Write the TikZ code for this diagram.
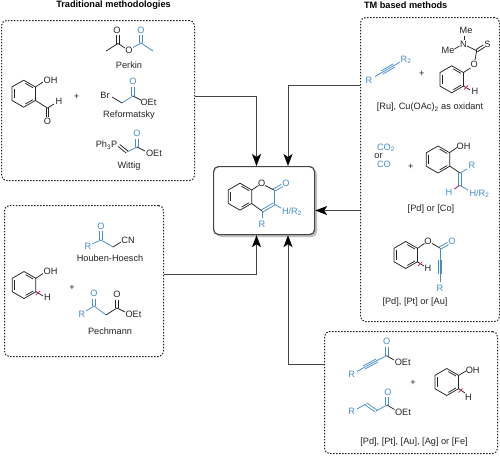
\documentclass[tikz,border=0pt]{standalone}
\usepackage{fontspec}
\setmainfont{Liberation Sans}
\usetikzlibrary{calc,arrows.meta}
\definecolor{bl}{RGB}{70,140,205}
\definecolor{pk}{RGB}{230,40,140}
\definecolor{ink}{RGB}{35,35,35}
\newcounter{lbn}
\tikzset{
  bondline/.style={line width=0.75pt,draw=ink},
  blbond/.style={line width=0.75pt,draw=bl},
  atom/.style={inner sep=0pt,font=\fontsize{9.2}{10}\selectfont,text=ink},
  blatom/.style={atom,text=bl},
  title/.style={inner sep=0pt,font=\fontsize{9.2}{10}\selectfont\bfseries,text=black},
  dbox/.style={draw=ink,line width=1pt,rounded corners=5pt,dash pattern=on 1.5pt off 1.5pt,inner sep=0pt,anchor=north west},
  conn/.style={line width=1pt,draw=ink!85,-{Stealth[length=12pt,width=9pt,inset=3pt,color=black]}},
  squig/.style={line width=0.8pt,draw=pk}
}
\newcommand\lb[3][atom]{\stepcounter{lbn}\node[#1] (t\thelbn) at (#2) {#3};}
\newcommand\ab[2]{\lb[atom]{#1}{#2}}
\newcommand\bb[2]{\lb[blatom]{#1}{#2}}
\newcommand\bn[2]{\draw[bondline] #1 -- #2;}
\newcommand\bu[2]{\draw[blbond] #1 -- #2;}
\newcommand\dbl[3][bondline]{\draw[#1] ($#2!1.3pt!90:#3$) -- ($#3!1.3pt!-90:#2$);\draw[#1] ($#2!1.3pt!-90:#3$) -- ($#3!1.3pt!90:#2$);}
\newcommand\trp[3][blbond]{\draw[#1] #2 -- #3;\draw[#1] ($#2!1.8pt!90:#3$) -- ($#3!1.8pt!-90:#2$);\draw[#1] ($#2!1.8pt!-90:#3$) -- ($#3!1.8pt!90:#2$);}
\newcommand\benz[2]{\begin{scope}[shift={(#1,#2)}]
  \draw[bondline,line join=miter] (0,-13.5)--(11.7,-6.75)--(11.7,6.75)--(0,13.5)--(-11.7,6.75)--(-11.7,-6.75)--cycle;
  \draw[bondline] (-9.2,-4.6)--(-9.2,4.6);
  \draw[bondline] (1.6,-10.4)--(9.2,-6);
  \draw[bondline] (1.6,10.4)--(9.2,6);
\end{scope}}
\newcommand\sq[2]{\draw[squig] (#1-2,#2+2) .. controls (#1-0.5,#2+2) and (#1-1.2,#2-0.4) .. (#1,#2) .. controls (#1+1.2,#2+0.4) and (#1+0.5,#2-2) .. (#1+2,#2-2);}
\begin{document}
\begin{tikzpicture}[x=1pt,y=-1pt]
\useasboundingbox (0,0) rectangle (500,455);
% boxes
\node[dbox,minimum width=193pt,minimum height=160pt] (b1) at (1,20) {};
\node[dbox,minimum width=159pt,minimum height=151pt] (b2) at (4,205) {};
\node[dbox,minimum width=139pt,minimum height=304pt] (b3) at (360,17) {};
\node[dbox,minimum width=173pt,minimum height=122pt] (b4) at (324,331) {};
\fill[black!25,rounded corners=5pt] (216,169) rectangle (317,237);
\node[draw=ink!85,fill=white,line width=1.2pt,rounded corners=5pt,minimum width=101pt,minimum height=68pt,inner sep=0pt,anchor=north west] (c) at (213,166) {};
% titles
\lb[title]{113.5,5}{Traditional methodologies}
\lb[title]{405.7,5}{TM based methods}
% connectors
\coordinate (e1) at (b1.east |- 0,96);
\coordinate (e2) at (b2.east |- 0,274);
\coordinate (e3) at (b3.west |- 0,85);
\coordinate (e4) at (b3.west |- 0,210.5);
\coordinate (e5) at (b4.west |- 0,364);
\coordinate (n1) at (c.north -| 256.5,0);
\coordinate (n2) at (c.north -| 288,0);
\coordinate (s1) at (c.south -| 256.5,0);
\coordinate (s2) at (c.south -| 288,0);
\coordinate (rr) at (c.east |- 0,210.5);
\draw[conn] (e1) -| (n1);
\draw[conn] (e2) -| (s1);
\draw[conn] (e3) -| (n2);
\draw[conn] (e4) -- (rr);
\draw[conn] (e5) -| (s2);
% coumarin
\benz{240}{196.7}
\ab{261.7,183.3}{O}
\bn{(251.7,190)}{(258.5,185.5)}
\bn{(265,185.5)}{(274,190)}
\dbl[blbond]{(274,190)}{(282,185.5)}
\bb{286,183.5}{O}
\bu{(274,190)}{(274,204)}
\dbl[blbond]{(274,204)}{(262,211)}
\bn{(262,211)}{(251.7,203.5)}
\bu{(262,211)}{(262,218)}
\bb{262,224}{R}
\bu{(274,204)}{(281,208)}
\bb{292,211.5}{H/R\textsubscript{2}}
% salicylaldehyde
\benz{23.7}{93.7}
\bn{(35.4,87)}{(43,82)}
\ab{50.5,80.5}{OH}
\bn{(35.4,100.5)}{(47.5,108)}
\bn{(47.5,108)}{(54,104)}
\ab{59,101.5}{H}
\dbl{(47.5,108)}{(47.5,116.5)}
\ab{47.5,121.5}{O}
\ab{76.5,96.5}{+}
% Perkin
\bn{(106,51)}{(118,43.5)}
\dbl{(118,43.5)}{(118,35)}
\ab{117,30}{O}
\bn{(118,43.5)}{(125,48)}
\ab{129,50}{O}
\bu{(133,47.5)}{(141,43)}
\dbl[blbond]{(141,43)}{(141,35)}
\bb{141,30}{O}
\bu{(141,43)}{(153,51)}
\ab{129,65.5}{Perkin}
% Reformatsky
\ab{105,95}{Br}
\bn{(112,97)}{(122,103)}
\bu{(122,103)}{(133,96)}
\dbl[blbond]{(133,96)}{(133,87)}
\bb{133,81.5}{O}
\bn{(133,96)}{(141,100)}
\ab{148.5,102}{OEt}
\ab{129,115.5}{Reformatsky}
% Wittig
\ab{106.5,145}{Ph\textsubscript{3}P}
\dbl{(119,145.5)}{(127,152)}
\bu{(127,152)}{(137,147)}
\dbl[blbond]{(137,147)}{(137,139)}
\bb{137,133}{O}
\bn{(137,147)}{(145,151)}
\ab{154,153}{OEt}
\ab{129,166.5}{Wittig}
% Phenol left
\benz{24}{285}
\bn{(35.7,278.5)}{(43,273.5)}
\ab{50.5,271}{OH}
\bn{(35.7,291.5)}{(43,296)}
\ab{47.5,297.5}{H}
\sq{38}{293}
\ab{72,288}{+}
% Houben
\bb{88,246.5}{R}
\bu{(92,244)}{(101,240)}
\dbl[blbond]{(101,240)}{(101,230.5)}
\bb{101,226}{O}
\bu{(101,240)}{(113,247)}
\bn{(113,247)}{(121,242)}
\ab{128,240.5}{CN}
\ab{110,258}{Houben-Hoesch}
% Pechmann
\bb{82,314}{R}
\bu{(86,311)}{(94,306)}
\dbl[blbond]{(94,306)}{(94,298.5)}
\bb{94,293.5}{O}
\bu{(94,306)}{(106,315)}
\bn{(106,315)}{(117,308)}
\dbl{(117,308)}{(117,299.5)}
\ab{117,294}{O}
\bn{(117,308)}{(125,312)}
\ab{133.5,314}{OEt}
\ab{110,331}{Pechmann}
% TM 1
\bb{369,80}{R}
\bu{(375,76.5)}{(382,72.5)}
\trp{(382,72.5)}{(394,65.5)}
\bu{(394,65.5)}{(400,62)}
\bb{406,60}{R\textsubscript{2}}
\ab{421.7,74}{+}
\benz{451.7}{79.3}
\bn{(463.4,72.5)}{(470.5,68)}
\ab{474.3,64}{O}
\bn{(475,60)}{(476.7,50.7)}
\dbl{(476.7,50.7)}{(484,46)}
\ab{487.5,44}{S}
\ab{463.5,44}{N}
\bn{(467,46)}{(476.7,50.7)}
\ab{466,30.5}{Me}
\bn{(464.5,39.5)}{(464.5,35.5)}
\ab{448,50.5}{Me}
\bn{(459.5,46)}{(454.5,49)}
\bn{(463.4,86)}{(470,90)}
\ab{475,91}{H}
\sq{466}{87.5}
\lb{430,107.5}{[Ru], Cu(OAc)\textsubscript{2} as oxidant}
% TM 2
\bb{386,148}{CO\textsubscript{2}}
\ab{378.5,156}{or}
\bb{384,164}{CO}
\ab{410.7,167}{+}
\benz{438}{159.5}
\bn{(449.7,152.5)}{(457,147.5)}
\ab{463.5,146}{OH}
\bn{(449.7,166)}{(460,173)}
\dbl[blbond]{(460,173)}{(460,185.5)}
\bu{(460,173)}{(467,169)}
\bb{472,165.5}{R}
\bu{(460,185.5)}{(454,189)}
\bb{449,192}{H}
\bu{(460,185.5)}{(468,190)}
\bb{479.5,193.5}{H/R\textsubscript{2}}
\sq{457}{187}
\lb{431,209.5}{[Pd] or [Co]}
% TM 3
\benz{405.7}{255}
\bn{(417.4,248.3)}{(424.5,243.5)}
\ab{428,241.5}{O}
\bn{(432,243.5)}{(440,248)}
\dbl[blbond]{(440,248)}{(448,243.5)}
\bb{452,241.5}{O}
\bu{(440,248)}{(440,260)}
\trp{(440,260)}{(440,274)}
\bu{(440,274)}{(440,282)}
\bb{440,288.5}{R}
\bn{(417.4,261.8)}{(424,266)}
\ab{428,268}{H}
\sq{420}{264}
\lb{415,302}{[Pd], [Pt] or [Au]}
% bottom box
\bb{351.7,374}{R}
\bu{(357,371.5)}{(364,367.5)}
\trp{(364,367.5)}{(377,360.5)}
\bu{(377,360.5)}{(386.7,355.7)}
\dbl[blbond]{(386.7,355.7)}{(386.7,346.5)}
\bb{386.7,341}{O}
\bn{(386.7,355.7)}{(394,360)}
\ab{402.7,362}{OEt}
\bb{351.7,411.5}{R}
\bu{(357,409)}{(366,404)}
\dbl[blbond]{(366,404)}{(376,411)}
\bu{(376,411)}{(387,405)}
\dbl[blbond]{(387,405)}{(387,397)}
\bb{388,392}{O}
\bn{(387,405)}{(394.5,409.5)}
\ab{403,412}{OEt}
\ab{413,383}{+}
\benz{446.7}{382}
\bn{(458.4,375.5)}{(466,371)}
\ab{472.7,370}{OH}
\bn{(458.4,388.5)}{(465,393)}
\ab{468.5,397}{H}
\sq{460.5}{390.5}
\lb{414,442}{[Pd], [Pt], [Au], [Ag] or [Fe]}
\end{tikzpicture}
\end{document}
